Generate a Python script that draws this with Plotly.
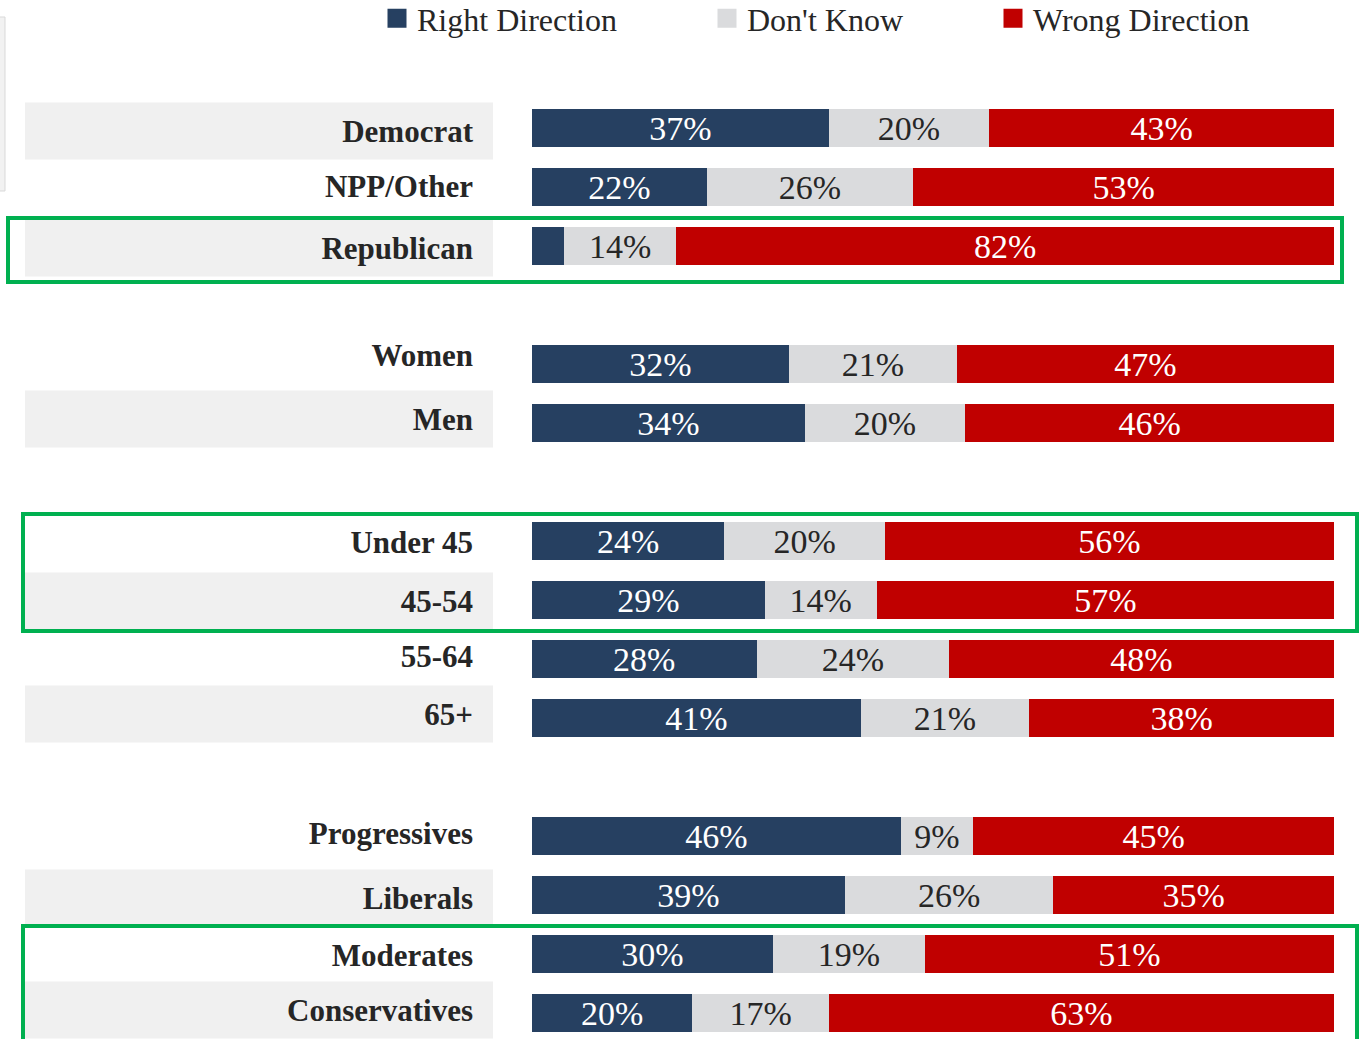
import plotly.graph_objects as go

# ---- data ----
categories = ["Democrat", "NPP/Other", "Republican",
              "Women", "Men",
              "Under 45", "45-54", "55-64", "65+",
              "Progressives", "Liberals", "Moderates", "Conservatives"]
right_direction = [37, 22, 4, 32, 34, 24, 29, 28, 41, 46, 39, 30, 20]
dont_know = [20, 26, 14, 21, 20, 20, 14, 24, 21, 9, 26, 19, 17]
wrong_direction = [43, 53, 82, 47, 46, 56, 57, 48, 38, 45, 35, 51, 63]
group_sizes = [3, 2, 4, 4]
series_names = ["Right Direction", "Don't Know", "Wrong Direction"]

# ---- layout (screen px; body margin removed in the page) ----
W, H = 1363, 1039
PL, PR = 532, 1334                  # plot area in px
ROW0, PITCH = 128, 59               # first row centre & row pitch in px
label_nudge_px = [3, -1, 2, -9, -4, 1, 1, -3, -4, -3, 3, 1, -3]  # label/band offsets

positions = []
slot = 0
for g in group_sizes:
    for _ in range(g):
        positions.append(slot)
        slot += 1
    slot += 1
label_pos = [p + n / PITCH for p, n in zip(positions, label_nudge_px)]

def px_x(sx):
    return (sx - PL) / (PR - PL)

def px_row(sy):
    return (sy - ROW0) / PITCH

def px_y(sy):
    return 1 - sy / H

colors = ["#264061", "#DADBDD", "#C00000"]
text_colors = ["white", "#262626", "white"]
FONT = "Liberation Serif"

fig = go.Figure()
for name, vals, col, tcol in zip(series_names,
                                 [right_direction, dont_know, wrong_direction],
                                 colors, text_colors):
    fig.add_trace(go.Bar(
        y=positions, x=vals, orientation="h", name=name,
        marker=dict(color=col, line=dict(width=0)),
        width=0.66,
        text=[f"{v}%" if v >= 5 else "" for v in vals],
        textposition="inside", insidetextanchor="middle",
        constraintext="none", textangle=0,
        insidetextfont=dict(family=FONT, size=34, color=tcol),
        showlegend=False, hoverinfo="skip",
    ))

legend_names = ["legend", "legend2", "legend3"]
legend_text_px = [418, 748, 1034]
for name, col, lg in zip(series_names, colors, legend_names):
    fig.add_trace(go.Scatter(
        x=[None], y=[None], mode="markers", name=name,
        marker=dict(symbol="square", size=16, color=col,
                    line=dict(color=col, width=3)),
        legend=lg, showlegend=True,
    ))

shapes = []
BAND_HALF = 28.5 / PITCH
for i in range(0, len(categories), 2):
    c = label_pos[i]
    shapes.append(dict(type="rect", xref="paper", yref="y",
                       x0=px_x(25), x1=px_x(493), y0=c - BAND_HALF, y1=c + BAND_HALF,
                       fillcolor="#F0F0F0", line=dict(width=0), layer="below"))

green = "#00B050"
boxes = [(8, 1342, 218, 282), (23, 1357, 514, 631), (23, 1357, 926, 1090)]
for x0, x1, y0, y1 in boxes:
    shapes.append(dict(type="rect", xref="paper", yref="y",
                       x0=px_x(x0), x1=px_x(x1), y0=px_row(y0), y1=px_row(y1),
                       line=dict(color=green, width=4), fillcolor="rgba(0,0,0,0)",
                       layer="above"))

shapes.append(dict(type="rect", xref="paper", yref="paper",
                   x0=px_x(-4), x1=px_x(5), y0=px_y(191), y1=px_y(17),
                   fillcolor="#F2F2F2", line=dict(color="#D9D9D9", width=1),
                   layer="below"))

legend_layouts = {}
for lg, tx in zip(legend_names, legend_text_px):
    legend_layouts[lg] = dict(
        x=px_x(tx - 41), xanchor="left", y=1 + 9 / H, yanchor="top",
        orientation="h", bgcolor="rgba(0,0,0,0)", borderwidth=0,
        font=dict(family=FONT, size=32, color="#262626"),
        itemsizing="trace",
    )

fig.update_layout(
    width=W, height=H,
    margin=dict(l=PL, r=W - PR, t=0, b=0, pad=0, autoexpand=False),
    barmode="stack", barnorm="percent",
    paper_bgcolor="white", plot_bgcolor="white",
    shapes=shapes,
    xaxis=dict(range=[0, 100], visible=False, fixedrange=True),
    yaxis=dict(range=[(H - ROW0) / PITCH, -ROW0 / PITCH],
               tickvals=label_pos, ticktext=categories,
               tickfont=dict(family=FONT, size=31, color="#262626", weight="bold"),
               ticks="", showgrid=False, zeroline=False, showline=False,
               ticklabelstandoff=58, fixedrange=True),
    **legend_layouts,
)

fig.write_html("out.html",
               config={"displayModeBar": False, "staticPlot": True},
               post_script="document.body.style.margin='0';document.body.style.overflow='hidden';")
